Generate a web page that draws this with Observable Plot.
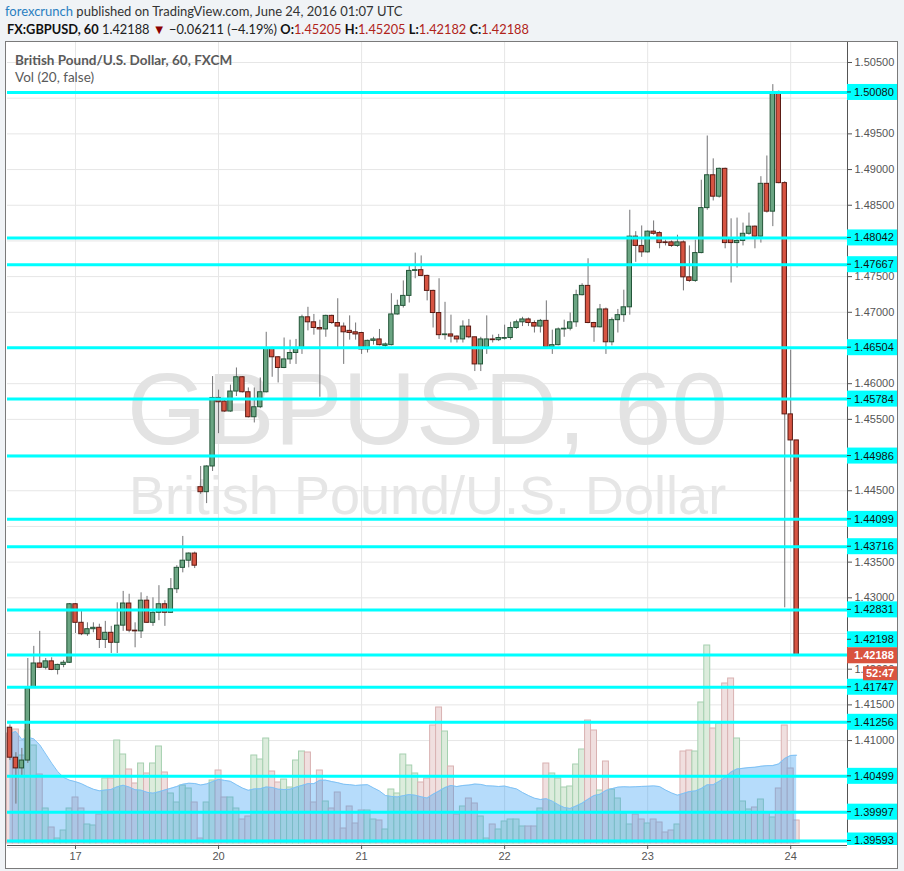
<!DOCTYPE html>
<html>
<head>
<meta charset="utf-8">
<script src="https://cdn.jsdelivr.net/npm/d3@7"></script>
<script src="https://cdn.jsdelivr.net/npm/@observablehq/plot@0.6"></script>
<style>
  html, body { margin: 0; padding: 0; }
  body { background: #f0f3f6; width: 904px; height: 871px; overflow: hidden; position: relative; }
  .hdr { position: absolute; white-space: nowrap; font-family: Lato, "Open Sans", sans-serif; }
  #h1 { left: 5px; top: 3px; font-size: 13px; color: #333; }
  #h1 .user { color: #2a7fc1; }
  #h2 { left: 7px; top: 21px; font-size: 12.8px; color: #222; }
  #h2 b { font-weight: 700; color: #111; }
  #h2 .r { color: #b0231a; }
  #h2 .arr { color: #8b0000; font-size: 13px; }
  #panel { position: absolute; left: 5px; top: 41px; width: 891px; height: 826px; background: #fff; border: 1px solid #7a7a7a; }
  .layer { position: absolute; left: 6px; top: 42px; }
  #leg1 { left: 15px; top: 52px; font-size: 13.5px; font-weight: 700; color: #5a5a5a; }
  #leg2 { left: 15px; top: 69px; font-size: 13.5px; color: #5a5a5a; }
</style>
</head>
<body>
<div class="hdr" id="h1"><span class="user">forexcrunch</span> published on TradingView.com, June 24, 2016 01:07 UTC</div>
<div class="hdr" id="h2"><b>FX:GBPUSD, 60</b> 1.42188 <span class="arr">▼</span> −0.06211 (−4.19%) <b>O:</b><span class="r">1.45205</span> <b>H:</b><span class="r">1.45205</span> <b>L:</b><span class="r">1.42182</span> <b>C:</b><span class="r">1.42188</span></div>
<div id="panel"></div>
<div id="chart"></div>
<div class="hdr" id="leg1">British Pound/U.S. Dollar, 60, FXCM</div>
<div class="hdr" id="leg2">Vol (20, false)</div>
<script>
// Hourly candles; index 0 = 17 Jun 2016 00:00 UTC (weekend hours skipped)
const firstIndex = -11;

const open = [
  1.4118, 1.4076, 1.4061, 1.4072, 1.4174, 1.4208, 1.4202, 1.4211, 1.4199, 1.4206,
  1.4209, 1.4291, 1.4265, 1.4249, 1.4256, 1.4258, 1.4241, 1.4251, 1.4237, 1.4261,
  1.4292, 1.4254, 1.4253, 1.4296, 1.4265, 1.4279, 1.4291, 1.4279, 1.4312, 1.4342,
  1.4352, 1.4362, 1.4455, 1.4448, 1.4484, 1.4580, 1.4575, 1.4561, 1.4589, 1.4609,
  1.4588, 1.4553, 1.4567, 1.4588, 1.4650, 1.4637, 1.4622, 1.4634, 1.4643, 1.4650,
  1.4693, 1.4686, 1.4678, 1.4676, 1.4695, 1.4685, 1.4680, 1.4674, 1.4672, 1.4671,
  1.4648, 1.4660, 1.4662, 1.4653, 1.4654, 1.4697, 1.4709, 1.4723, 1.4758, 1.4759,
  1.4751, 1.4730, 1.4699, 1.4668, 1.4669, 1.4666, 1.4662, 1.4680, 1.4665, 1.4627,
  1.4651, 1.4662, 1.4661, 1.4663, 1.4664, 1.4678, 1.4686, 1.4690, 1.4685, 1.4680,
  1.4688, 1.4651, 1.4654, 1.4676, 1.4677, 1.4686, 1.4724, 1.4737, 1.4685, 1.4679,
  1.4704, 1.4658, 1.4689, 1.4696, 1.4707, 1.4806, 1.4793, 1.4784, 1.4813, 1.4811,
  1.4798, 1.4798, 1.4793, 1.4798, 1.4749, 1.4744, 1.4783, 1.4846, 1.4892, 1.4862,
  1.4901, 1.4804, 1.4797, 1.4800, 1.4810, 1.4820, 1.4806, 1.4880, 1.4841, 1.5008,
  1.4881, 1.4557, 1.45205
];
const high = [
  1.4122, 1.4083, 1.4089, 1.4215, 1.4232, 1.4253, 1.4215, 1.4216, 1.4207, 1.4212,
  1.4292, 1.4292, 1.4281, 1.4265, 1.4265, 1.4263, 1.4267, 1.4260, 1.4293, 1.4309,
  1.4305, 1.4265, 1.4307, 1.4302, 1.4300, 1.4317, 1.4296, 1.4327, 1.4345, 1.4386,
  1.4363, 1.4364, 1.4484, 1.4485, 1.4610, 1.4591, 1.4577, 1.4598, 1.4622, 1.4610,
  1.4594, 1.4594, 1.4608, 1.4672, 1.4651, 1.4638, 1.4664, 1.4661, 1.4662, 1.4696,
  1.4707, 1.4697, 1.4689, 1.4696, 1.4696, 1.4719, 1.4685, 1.4695, 1.4685, 1.4672,
  1.4661, 1.4665, 1.4676, 1.4657, 1.4726, 1.4717, 1.4744, 1.4766, 1.4783, 1.4779,
  1.4752, 1.4731, 1.4747, 1.4714, 1.4696, 1.4667, 1.4688, 1.4690, 1.4665, 1.4665,
  1.4695, 1.4668, 1.4669, 1.4682, 1.4686, 1.4689, 1.4693, 1.4692, 1.4688, 1.4690,
  1.4716, 1.4675, 1.4678, 1.4689, 1.4699, 1.4731, 1.4740, 1.4775, 1.4686, 1.4711,
  1.4706, 1.4692, 1.4704, 1.4731, 1.4843, 1.4813, 1.4821, 1.4814, 1.4828, 1.4813,
  1.4801, 1.4800, 1.4808, 1.4800, 1.4793, 1.4801, 1.4885, 1.4947, 1.4915, 1.4902,
  1.4902, 1.4831, 1.4832, 1.4825, 1.4839, 1.4821, 1.4890, 1.4919, 1.5019, 1.5010,
  1.4883, 1.4647, 1.45205
];
const low = [
  1.4072, 1.4011, 1.4051, 1.4068, 1.4173, 1.4201, 1.4199, 1.4198, 1.4192, 1.4202,
  1.4208, 1.4250, 1.4247, 1.4246, 1.4251, 1.4229, 1.4229, 1.4222, 1.4222, 1.4253,
  1.4251, 1.4230, 1.4243, 1.4264, 1.4260, 1.4268, 1.4260, 1.4278, 1.4306, 1.4335,
  1.4342, 1.4341, 1.4445, 1.4432, 1.4477, 1.4530, 1.4560, 1.4560, 1.4582, 1.4587,
  1.4552, 1.4545, 1.4565, 1.4587, 1.4609, 1.4601, 1.4621, 1.4627, 1.4627, 1.4641,
  1.4674, 1.4668, 1.4581, 1.4665, 1.4683, 1.4648, 1.4627, 1.4661, 1.4661, 1.4641,
  1.4643, 1.4654, 1.4653, 1.4651, 1.4653, 1.4696, 1.4706, 1.4713, 1.4747, 1.4750,
  1.4716, 1.4678, 1.4662, 1.4661, 1.4657, 1.4657, 1.4657, 1.4663, 1.4617, 1.4617,
  1.4641, 1.4657, 1.4659, 1.4661, 1.4661, 1.4676, 1.4680, 1.4680, 1.4671, 1.4671,
  1.4650, 1.4641, 1.4653, 1.4665, 1.4674, 1.4679, 1.4723, 1.4684, 1.4658, 1.4678,
  1.4641, 1.4653, 1.4671, 1.4686, 1.4696, 1.4770, 1.4777, 1.4783, 1.4808, 1.4789,
  1.4793, 1.4791, 1.4791, 1.4730, 1.4742, 1.4742, 1.4782, 1.4843, 1.4856, 1.4860,
  1.4789, 1.4741, 1.4762, 1.4793, 1.4808, 1.4789, 1.4797, 1.4839, 1.4820, 1.4880,
  1.4286, 1.4462, 1.42182
];
const close = [
  1.4076, 1.4061, 1.4072, 1.4173, 1.4208, 1.4202, 1.4211, 1.4199, 1.4206, 1.4209,
  1.4291, 1.4265, 1.4249, 1.4256, 1.4258, 1.4241, 1.4251, 1.4237, 1.4261, 1.4292,
  1.4254, 1.4253, 1.4296, 1.4265, 1.4279, 1.4291, 1.4279, 1.4312, 1.4342, 1.4352,
  1.4362, 1.4345, 1.4448, 1.4484, 1.4580, 1.4574, 1.4561, 1.4589, 1.4609, 1.4588,
  1.4553, 1.4567, 1.4588, 1.4650, 1.4637, 1.4622, 1.4634, 1.4643, 1.4650, 1.4693,
  1.4686, 1.4678, 1.4676, 1.4695, 1.4685, 1.4680, 1.4672, 1.4671, 1.4669, 1.4648,
  1.4660, 1.4662, 1.4654, 1.4655, 1.4697, 1.4709, 1.4723, 1.4758, 1.4759, 1.4751,
  1.4730, 1.4699, 1.4668, 1.4669, 1.4666, 1.4662, 1.4680, 1.4665, 1.4627, 1.4662,
  1.4662, 1.4661, 1.4664, 1.4664, 1.4678, 1.4686, 1.4690, 1.4685, 1.4680, 1.4688,
  1.4651, 1.4654, 1.4676, 1.4677, 1.4686, 1.4724, 1.4737, 1.4685, 1.4679, 1.4704,
  1.4658, 1.4689, 1.4696, 1.4707, 1.4806, 1.4793, 1.4784, 1.4813, 1.4810, 1.4797,
  1.4797, 1.4793, 1.4798, 1.4749, 1.4744, 1.4783, 1.4846, 1.4892, 1.4862, 1.4901,
  1.4797, 1.4797, 1.4800, 1.4810, 1.4820, 1.4806, 1.4880, 1.4841, 1.5008, 1.4881,
  1.4557, 1.45205, 1.42188
];
const volume = [
  1100, 1140, 880, 1130, 980, 690, 350, 160, 50, 130,
  350, 460, 350, 190, 180, 290, 650, 650, 1030, 890,
  740, 600, 800, 700, 800, 970, 710, 500, 410, 580,
  550, 410, 50, 410, 630, 730, 460, 460, 350, 240,
  270, 880, 840, 1050, 720, 610, 640, 560, 830, 920,
  910, 410, 730, 420, 350, 510, 150, 370, 200, 330,
  330, 240, 230, 140, 540, 500, 890, 780, 700, 610,
  650, 1180, 1360, 1120, 770, 290, 370, 450, 400, 270,
  50, 190, 140, 220, 240, 240, 170, 170, 170, 350,
  800, 700, 650, 560, 570, 790, 940, 1230, 1130, 530,
  820, 540, 450, 300, 190, 290, 240, 200, 240, 210,
  110, 130, 190, 920, 930, 920, 1410, 1980, 1150, 1200,
  1600, 1650, 1050, 420, 340, 360, 440, 310, 260, 550,
  1180, 750, 230
];

const dayTicks = [0, 24, 48, 72, 96, 120];
const dayLabels = ["17", "20", "21", "22", "23", "24"];
const levels = [1.50080, 1.48042, 1.47667, 1.46504, 1.45784, 1.44986, 1.44099, 1.43716,
                1.42831, 1.42198, 1.41747, 1.41256, 1.40499, 1.39997, 1.39593];
const priceTicks = d3.range(279, 302).map(k => +(k * 0.005).toFixed(3));
const lastPrice = 1.42188;
const countdown = "52:47";

const candles = open.map((o, k) => ({
  i: firstIndex + k, open: o, high: high[k], low: low[k], close: close[k], vol: volume[k],
  up: close[k] >= o
}));

const W = 891, H = 826;
const geom = {width: W, height: H, marginLeft: 1, marginRight: 50, marginTop: 0, marginBottom: 23};
const xDomain = [-11.41, 129.53];
const yDomain = [1.3953, 1.5078];
const volDomain = [0, 8010];
const axisFont = "'Liberation Sans', Arial, sans-serif";

const upFill = "#6ba583", upStroke = "#225437";
const dnFill = "#d75442", dnStroke = "#5b1a13";

// price-axis labels that sit under a level box are hidden (as on the chart)
const pxPerUnit = (H - geom.marginBottom - geom.marginTop) / (yDomain[1] - yDomain[0]);
const boxCenters = levels.map(v => Math.abs(v - lastPrice) * pxPerUnit < 15 ? lastPrice + 16 / pxPerUnit : v)
  .concat([lastPrice]);
const axisTicks = priceTicks.filter(t => t >= yDomain[0] && t <= yDomain[1] &&
  boxCenters.every(c => Math.abs(t - c) * pxPerUnit >= 10));

// Layer 1: grid + watermark
const layer1 = Plot.plot({
  ...geom,
  style: {background: "transparent", fontFamily: axisFont},
  x: {domain: xDomain, axis: null},
  y: {domain: yDomain, axis: null},
  marks: [
    Plot.gridY(priceTicks, {stroke: "#e6e6e6", strokeOpacity: 1}),
    Plot.gridX(dayTicks, {stroke: "#e6e6e6", strokeOpacity: 1}),
    Plot.text(["GBPUSD, 60"], {text: d => d, frameAnchor: "middle", dy: -33, fontSize: 102,
      fill: "#e3e3e3", fontFamily: axisFont}),
    Plot.text(["British Pound/U.S. Dollar"], {text: d => d, frameAnchor: "middle", dy: 53, fontSize: 54,
      fill: "#e6e6e6", fontFamily: axisFont})
  ]
});

// Layer 2: volume + MA(20)
const layer2 = Plot.plot({
  ...geom,
  marginBottom: 25,
  style: {background: "transparent"},
  x: {domain: xDomain, axis: null},
  y: {domain: volDomain, axis: null},
  marks: [
    Plot.rect(candles, {
      x1: d => d.i - 0.5, x2: d => d.i + 0.5, y1: 0, y2: "vol",
      fill: d => d.up ? "#dcecdc" : "#f0dfdf",
      stroke: d => d.up ? "#a6d0b0" : "#d9b2b2", strokeWidth: 1
    }),
    Plot.areaY(candles, Plot.windowY({k: 20, anchor: "end", reduce: "mean"},
      {x: "i", y: "vol", fill: "#2196f3", fillOpacity: 0.33})),
    Plot.lineY(candles, Plot.windowY({k: 20, anchor: "end", reduce: "mean"},
      {x: "i", y: "vol", stroke: "#7fc2f5", strokeWidth: 1}))
  ]
});

// Right price-label boxes (custom mark using the plot's scales)
function priceLabels(index, scales, values, dims) {
  const x0 = dims.width - dims.marginRight;
  const bw = dims.marginRight;
  const bottom = dims.height - dims.marginBottom;
  const g = d3.create("svg:g").attr("font-family", axisFont).attr("font-size", 11)
    .attr("text-anchor", "start");
  g.append("clipPath").attr("id", "lblclip").append("rect")
    .attr("x", x0).attr("y", 0).attr("width", bw).attr("height", bottom);
  const gg = g.append("g").attr("clip-path", "url(#lblclip)");
  const yLast = scales.y(lastPrice);
  for (const v of levels) {
    let y = scales.y(v);
    if (Math.abs(y - yLast) < 15) y = yLast - 16;
    gg.append("rect").attr("x", x0).attr("y", y - 8).attr("width", bw).attr("height", 16).attr("fill", "#00ffff");
    gg.append("line").attr("x1", x0).attr("x2", x0 + 4).attr("y1", y).attr("y2", y).attr("stroke", "#333");
    gg.append("text").attr("x", x0 + 7).attr("y", y).attr("dy", "0.36em").attr("text-anchor", "start")
      .attr("fill", "#111").text(v.toFixed(5));
  }
  gg.append("rect").attr("x", x0).attr("y", yLast - 8).attr("width", bw).attr("height", 16).attr("fill", "#d9533f");
  gg.append("text").attr("x", x0 + 7).attr("y", yLast).attr("dy", "0.36em").attr("text-anchor", "start")
    .attr("fill", "#fff").attr("font-weight", "bold").text(lastPrice.toFixed(5));
  gg.append("rect").attr("x", x0 + 16).attr("y", yLast + 11).attr("width", bw - 16).attr("height", 14).attr("fill", "#d9533f");
  gg.append("text").attr("x", x0 + 19).attr("y", yLast + 18).attr("dy", "0.36em").attr("text-anchor", "start")
    .attr("fill", "#fff").attr("font-weight", "bold").text(countdown);
  return g.node();
}

// Layer 3: candles, levels, axes, labels
const layer3 = Plot.plot({
  ...geom,
  style: {background: "transparent", fontFamily: axisFont, fontSize: "11px"},
  x: {domain: xDomain, axis: null, label: null},
  y: {domain: yDomain, axis: null, label: null},
  marks: [
    Plot.ruleX(candles, {x: "i", y1: "low", y2: "high", stroke: "#737375", strokeWidth: 1}),
    Plot.rect(candles, {
      x1: d => d.i - 0.37, x2: d => d.i + 0.37, y1: "open", y2: "close",
      fill: d => d.up ? upFill : dnFill, stroke: d => d.up ? upStroke : dnStroke, strokeWidth: 1
    }),
    Plot.ruleY(candles.filter(d => Math.abs(d.open - d.close) < 0.00008), {
      x1: d => d.i - 0.37, x2: d => d.i + 0.37, y: "close",
      stroke: d => d.up ? upStroke : dnStroke, strokeWidth: 1.2
    }),
    Plot.ruleY(levels, {stroke: "#00ffff", strokeWidth: 3}),
    Plot.ruleY([yDomain[0]], {stroke: "#555"}),
    Plot.ruleX([xDomain[1]], {stroke: "#555"}),
    Plot.axisY(axisTicks, {anchor: "right", tickSize: 4, tickPadding: 3, label: null,
      tickFormat: d => d.toFixed(5), fontSize: 11, color: "#555"}),
    Plot.axisX(dayTicks, {anchor: "bottom", tickSize: 4, tickPadding: 3, label: null,
      tickFormat: d => dayLabels[dayTicks.indexOf(d)], fontSize: 11, color: "#555"}),
    priceLabels
  ]
});

const chart = document.getElementById("chart");
for (const el of [layer1, layer2, layer3]) {
  el.classList.add("layer");
  el.style.position = "absolute";
  el.style.left = "6px";
  el.style.top = "42px";
  chart.appendChild(el);
}
</script>
</body>
</html>
